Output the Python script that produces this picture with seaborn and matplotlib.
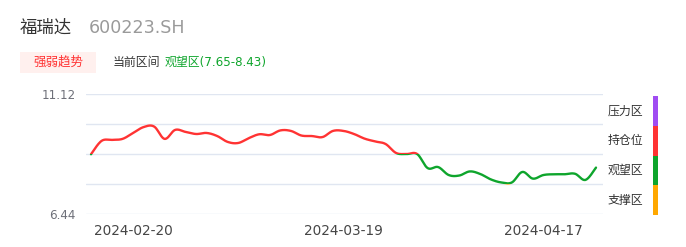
import numpy as np
import pandas as pd
import matplotlib
matplotlib.use("Agg")
import matplotlib.pyplot as plt
from matplotlib.patches import Rectangle
import seaborn as sns

# ---------------- data ----------------
dates = (["2024-02-06", "2024-02-07", "2024-02-08"]
         + [d.strftime("%Y-%m-%d") for d in pd.bdate_range("2024-02-19", "2024-04-03")]
         + [d.strftime("%Y-%m-%d") for d in pd.bdate_range("2024-04-08", "2024-04-24")])
prices = [8.77, 9.29, 9.33, 9.37, 9.60, 9.83, 9.85, 9.37, 9.72, 9.64,
          9.56, 9.60, 9.48, 9.25, 9.21, 9.40, 9.55, 9.52, 9.70, 9.68,
          9.50, 9.48, 9.44, 9.68, 9.68, 9.56, 9.38, 9.27, 9.17, 8.82,
          8.78, 8.78, 8.23, 8.27, 7.96, 7.94, 8.10, 8.00, 7.79, 7.67,
          7.67, 8.08, 7.82, 7.96, 7.99, 7.99, 8.01, 7.77, 8.25]
band_edges = [6.44, 7.61, 8.78, 9.95, 11.12]
band_names = ["支撑区", "观望区", "持仓位", "压力区"]
band_colors = ["#ffa800", "#0ea52c", "#ff3333", "#a04cf2"]
tick_dates = ["2024-02-20", "2024-03-19", "2024-04-17"]
stock_name = "福瑞达"
stock_code = "600223.SH"
current_zone = "观望区(7.65-8.43)"

# ---------------- smoothing for drawing (bezier like echarts smooth) ----------------
def smooth_curve(y, s=0.35, n=20):
    x = np.arange(len(y), dtype=float)
    y = np.asarray(y, dtype=float)
    P = np.column_stack([x, y])
    out = []
    for i in range(len(P) - 1):
        p0 = P[i - 1] if i > 0 else P[i]
        p1 = P[i]
        p2 = P[i + 1]
        p3 = P[i + 2] if i + 2 < len(P) else P[i + 1]
        c1 = p1 + (p2 - p0) * s / 2
        c2 = p2 - (p3 - p1) * s / 2
        t = np.linspace(0, 1, n, endpoint=(i == len(P) - 2))[:, None]
        seg = ((1 - t) ** 3) * p1 + 3 * ((1 - t) ** 2) * t * c1 + 3 * (1 - t) * t ** 2 * c2 + t ** 3 * p2
        out.append(seg)
    out = np.vstack(out)
    return out[:, 0], out[:, 1]

sx, sy = smooth_curve(prices)

# ---------------- figure ----------------
sns.set_theme(style="white")
plt.rcParams["font.family"] = ["DejaVu Sans", "Noto Sans CJK SC"]

W, H = 686, 247
fig = plt.figure(figsize=(W / 100, H / 100), dpi=100)
L, R, T, B = 86, 603, 94, 214
ax = fig.add_axes([L / W, 1 - B / H, (R - L) / W, (B - T) / H])

xmin, xmax = -0.475, len(prices) - 1 + 0.665
for lo, hi, col in zip(band_edges[:-1], band_edges[1:], band_colors):
    sns.lineplot(x=sx, y=sy, ax=ax, color=col, lw=1.7, sort=False, estimator=None)
    line = ax.lines[-1]
    line.set_solid_capstyle("round")
    clip = Rectangle((xmin, lo), xmax - xmin, hi - lo, transform=ax.transData)
    line.set_clip_path(clip)

ax.set_xlim(xmin, xmax)
ax.set_ylim(band_edges[0], band_edges[-1])
ax.set_yticks(band_edges)
ax.set_yticklabels([f"{band_edges[0]:.2f}", "", "", "", f"{band_edges[-1]:.2f}"])
ax.set_xticks([dates.index(d) for d in tick_dates])
ax.set_xticklabels(tick_dates)
ax.tick_params(axis="y", length=0, pad=7.5, labelsize=8.6, labelcolor="#6e7079")
ax.tick_params(axis="x", length=0, pad=7, labelsize=9.8, labelcolor="#464646")
ax.grid(axis="y", color="#e0e6f1", lw=1)
ax.grid(axis="x", visible=False)
ax.set_axisbelow(True)
for sp in ax.spines.values():
    sp.set_visible(False)
ax.set_xlabel("")
ax.set_ylabel("")

def ft(x, y, s, **kw):
    fig.text(x / W, 1 - y / H, s, **kw)

# header
ft(20, 28, stock_name, fontsize=12.5, color="#333333", va="center", ha="left",
   family=["Noto Sans CJK SC"])
ft(89, 28, stock_code, fontsize=12.6, color="#9a9a9a", va="center", ha="left")

# badge
fig.patches.append(Rectangle((20 / W, 1 - 73 / H), 76 / W, 21 / H, transform=fig.transFigure,
                             facecolor="#fff0ee", edgecolor="none"))
ft(58, 62.5, "强弱趋势", fontsize=9, color="#ff3333", va="center", ha="center",
   family=["Noto Sans CJK SC"])
ft(113, 62.5, "当前区间", fontsize=8.6, color="#333333", va="center", ha="left",
   family=["Noto Sans CJK SC"])
ft(165, 62.5, current_zone, fontsize=8.6, color="#0ea52c", va="center", ha="left",
   family=["DejaVu Sans", "Noto Sans CJK SC"])

# right legend bar
band_h = (215 - 96) / 4
for i, (name, col) in enumerate(zip(band_names[::-1], band_colors[::-1])):
    top = 96 + i * band_h
    fig.patches.append(Rectangle((653 / W, 1 - (top + band_h) / H), 5 / W, band_h / H,
                                 transform=fig.transFigure, facecolor=col, edgecolor="none"))
    ft(625, top + band_h / 2, name, fontsize=8.6, color="#333333", va="center", ha="center",
       family=["Noto Sans CJK SC"])

fig.savefig("out.png", dpi=100, facecolor="white")
